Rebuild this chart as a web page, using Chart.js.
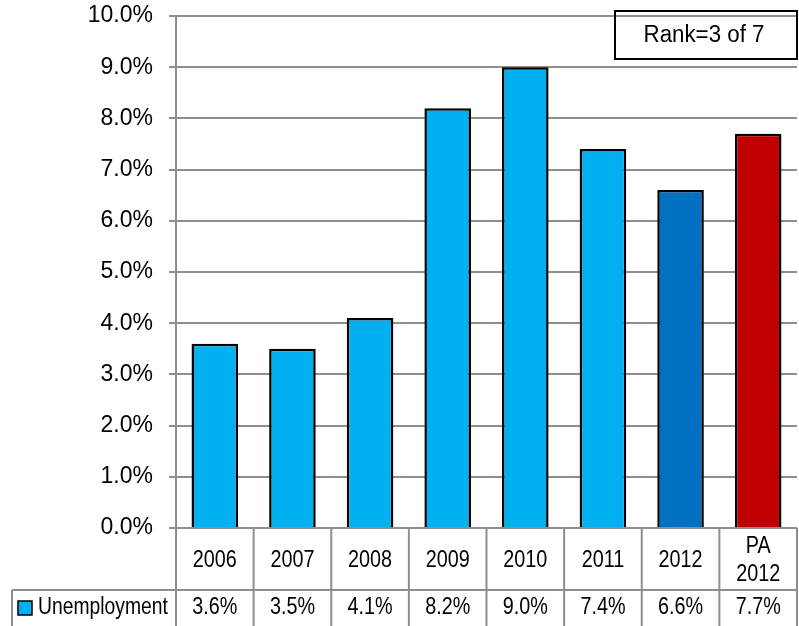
<!DOCTYPE html>
<html>
<head>
<meta charset="utf-8">
<script src="https://cdn.jsdelivr.net/npm/chart.js@4/dist/chart.umd.min.js"></script>
<style>
  html, body { margin: 0; padding: 0; background: #ffffff; }
  #wrap { width: 799px; height: 626px; }
</style>
</head>
<body>
<div id="wrap"><canvas id="c" width="799" height="626"></canvas></div>
<script>
// ---- data ----
const categories = ['2006', '2007', '2008', '2009', '2010', '2011', '2012', ['PA', '2012']];
const unemployment = [3.6, 3.5, 4.1, 8.2, 9.0, 7.4, 6.6, 7.7];
const barColors = ['#00B0F0', '#00B0F0', '#00B0F0', '#00B0F0', '#00B0F0', '#00B0F0', '#0070C0', '#C00000'];
const seriesName = 'Unemployment';
const yTickMin = 0;
const yTickMax = 10;
const yTickStep = 1;
const rankLabel = 'Rank=3 of 7';

const GRID = '#8e8e8e';
const fmt = v => v.toFixed(1) + '%';

function drawText(ctx, text, x, y, align, size, hScale) {
  ctx.save();
  ctx.font = size + 'px "Liberation Sans", Arial, sans-serif';
  ctx.fillStyle = '#000';
  ctx.textBaseline = 'middle';
  ctx.textAlign = align;
  ctx.translate(x, y);
  ctx.scale(hScale, 1);
  ctx.fillText(text, 0, 0);
  ctx.restore();
}

const tablePlugin = {
  id: 'dataTable',
  afterDraw(chart) {
    const ctx = chart.ctx;
    const xs = chart.scales.x;
    const area = chart.chartArea;
    const n = categories.length;
    const top = area.bottom;
    const rowSplit = top + 62;
    const bottom = chart.height;
    const keyLeft = 12;

    const edges = [];
    for (let i = 0; i <= n; i++) {
      if (i === 0) edges.push(area.left);
      else if (i === n) edges.push(area.right);
      else edges.push((xs.getPixelForValue(i - 1) + xs.getPixelForValue(i)) / 2);
    }

    ctx.save();
    ctx.strokeStyle = GRID;
    ctx.lineWidth = 2;
    ctx.beginPath();
    edges.forEach(x => { ctx.moveTo(x, top); ctx.lineTo(x, bottom); });
    ctx.moveTo(keyLeft, rowSplit); ctx.lineTo(area.right, rowSplit);
    ctx.moveTo(keyLeft, rowSplit); ctx.lineTo(keyLeft, bottom);
    ctx.stroke();
    ctx.restore();

    categories.forEach((c, i) => {
      const cx = xs.getPixelForValue(i);
      if (Array.isArray(c)) {
        drawText(ctx, c[0], cx, top + 19, 'center', 23, 0.86);
        drawText(ctx, c[1], cx, top + 47, 'center', 23, 0.86);
      } else {
        drawText(ctx, c, cx, top + 33, 'center', 23, 0.86);
      }
    });

    const vy = rowSplit + 18;
    unemployment.forEach((v, i) => {
      drawText(ctx, fmt(v), xs.getPixelForValue(i), vy, 'center', 23, 0.86);
    });

    ctx.save();
    ctx.fillStyle = barColors[0];
    ctx.fillRect(18, vy - 7, 14, 14);
    ctx.strokeStyle = '#000';
    ctx.lineWidth = 1.5;
    ctx.strokeRect(18, vy - 7, 14, 14);
    ctx.restore();
    drawText(ctx, seriesName, 38, vy, 'left', 23, 0.84);

    ctx.save();
    ctx.strokeStyle = '#000';
    ctx.lineWidth = 2;
    ctx.strokeRect(615, 11, 182, 48);
    ctx.restore();
    drawText(ctx, rankLabel, 704, 36, 'center', 23, 0.97);
  }
};

new Chart(document.getElementById('c'), {
  type: 'bar',
  data: {
    labels: categories,
    datasets: [{
      label: seriesName,
      data: unemployment,
      backgroundColor: barColors,
      borderColor: '#000000',
      borderWidth: 2.5,
      barPercentage: 0.6,
      categoryPercentage: 1.0
    }]
  },
  options: {
    responsive: false,
    devicePixelRatio: 1,
    animation: false,
    layout: { padding: { top: 16, right: 2, bottom: 98, left: 0 } },
    plugins: { legend: { display: false }, tooltip: { enabled: false } },
    scales: {
      x: { display: false },
      y: {
        min: yTickMin,
        max: yTickMax,
        afterFit(s) { s.width = 176; s.paddingTop = 0; s.paddingBottom = 0; },
        ticks: {
          stepSize: yTickStep,
          callback: v => fmt(v),
          color: '#000',
          padding: 16,
          font: { family: '"Liberation Sans", Arial, sans-serif', size: 23 }
        },
        grid: { color: GRID, lineWidth: 2, tickLength: 7, drawTicks: true },
        border: { color: GRID, width: 2 }
      }
    }
  },
  plugins: [tablePlugin]
});
</script>
</body>
</html>
